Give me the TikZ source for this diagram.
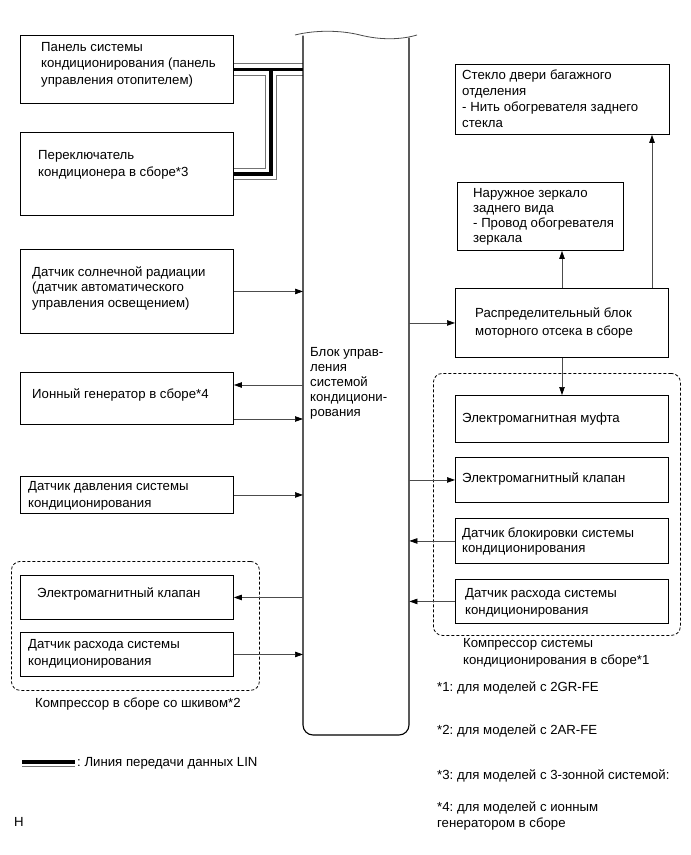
\documentclass[tikz,border=0pt]{standalone}
\usepackage{fontspec}
\setmainfont{Liberation Sans}
\usetikzlibrary{arrows.meta}
\newcommand\fsz[1]{\fontsize{13.2}{#1}\selectfont}
\frenchspacing
\begin{document}
\begin{tikzpicture}[x=1pt,y=-1pt,
 box/.style={draw, line width=0.9pt, inner sep=0pt, anchor=north west},
 grp/.style={draw, line width=0.8pt, dash pattern=on 3pt off 2pt, rounded corners=9pt, inner sep=0pt, anchor=north west},
 txt/.style={inner sep=0pt, anchor=base west, align=left, font=\fsz{16.5}},
 conn/.style={line width=0.7pt, draw=black!70},
 arr/.style={conn, -{Triangle[length=8pt,width=5.5pt,color=black]}},
 linout/.style={line width=12.5pt, draw=black!55},
 linmid/.style={line width=10.5pt, draw=white},
 lincore/.style={line width=3.3pt, draw=black},
]
\useasboundingbox (0,0) rectangle (691,855);

% central unit anchor node
\node[inner sep=0pt, minimum width=106pt, minimum height=700pt, anchor=north west] (cu) at (303,35) {};
\coordinate (j) at (271,69);
\coordinate (lg1) at (22,762);
\coordinate (lg2) at (75,762);

% boxes (left)
\node[box, minimum width=213pt, minimum height=68pt] (b1) at (20,35) {};
\node[box, minimum width=213pt, minimum height=83pt] (b2) at (20,132) {};

% LIN bus (drawn under the boxes)
\draw[linout] (b1.east) -- (b1.east -| cu.west);
\draw[linout] (j) |- (b2.east);
\draw[linmid] (b1.east) -- (b1.east -| cu.west);
\draw[linmid] (j) |- (b2.east);
\draw[lincore] (b1.east) -- (b1.east -| cu.west);
\draw[lincore] (j) |- (b2.east);

\node[box, minimum width=213pt, minimum height=68pt] at (20,35) {};
\node[box, minimum width=213pt, minimum height=83pt] at (20,132) {};
\node[box, minimum width=213pt, minimum height=84pt] (b3) at (20,249) {};
\node[box, minimum width=213pt, minimum height=52pt] (b4) at (20,372) {};
\node[box, minimum width=213pt, minimum height=37pt] (b5) at (20,476) {};
\node[grp, minimum width=248pt, minimum height=129pt] (gl) at (11,561) {};
\node[box, minimum width=213pt, minimum height=44pt] (b6) at (20,575) {};
\node[box, minimum width=213pt, minimum height=44pt] (b7) at (20,632) {};

% boxes (right)
\node[box, minimum width=214pt, minimum height=70pt] (r1) at (455,64) {};
\node[box, minimum width=166pt, minimum height=68pt] (r2) at (457,182) {};
\node[box, minimum width=213pt, minimum height=69pt] (r3) at (455,288) {};
\node[grp, minimum width=247pt, minimum height=262pt] (gr) at (433,373) {};
\node[box, minimum width=213pt, minimum height=47pt] (r4) at (455,395) {};
\node[box, minimum width=213pt, minimum height=45pt] (r5) at (455,457) {};
\node[box, minimum width=213pt, minimum height=45pt] (r6) at (455,518) {};
\node[box, minimum width=213pt, minimum height=44pt] (r7) at (455,579) {};

% central unit outline
\draw[line width=1.1pt, rounded corners=10pt] (303,35.5) -- (303,735) -- (409,735) -- (409,37.5);
\draw[line width=0.8pt, draw=black!70] (295,35) .. controls (315,30) and (340,30) .. (360,35) .. controls (380,40) and (400,40) .. (417,35);

% connectors
\draw[arr] (b3.east) -- (b3.east -| cu.west);
\draw[arr] (cu.west |- 0,385) -- (b4.east |- 0,385);
\draw[arr] (b4.east |- 0,419) -- (cu.west |- 0,419);
\draw[arr] (b5.east) -- (b5.east -| cu.west);
\draw[arr] (b6.east -| cu.west) -- (b6.east);
\draw[arr] (b7.east) -- (b7.east -| cu.west);
\draw[arr] (cu.east |- r3.west) -- (r3.west);
\draw[arr] (r3.north -| 562,0) -- (r2.south -| 562,0);
\draw[arr] (r3.north -| 652,0) -- (r1.south -| 652,0);
\draw[arr] (r3.south -| 562,0) -- (r4.north -| 562,0);
\draw[arr] (cu.east |- r5.west) -- (r5.west);
\draw[arr] (r6.west) -- (r6.west -| cu.east);
\draw[arr] (r7.west) -- (r7.west -| cu.east);

% legend line
\draw[line width=9pt, draw=black!55] (lg1) -- (lg2);
\draw[line width=7.4pt, draw=white] (lg1) -- (lg2);
\draw[line width=3.2pt, draw=black] (lg1) -- (lg2);

% texts (anchor = baseline of last line)
\node[txt, font=\fsz{16.7}] (b1t) at (41,84.6) {Панель системы\\кондиционирования (панель\\управления отопителем)};
\node[txt, font=\fsz{17}] (b2t) at (38,176.5) {Переключатель\\кондиционера в сборе*3};
\node[txt, font=\fsz{15.5}] (b3t) at (32,307) {Датчик солнечной радиации\\(датчик автоматического\\управления освещением)};
\node[txt] (b4t) at (32,398.5) {Ионный генератор в сборе*4};
\node[txt, font=\fsz{16.7}] (b5t) at (28,507.2) {Датчик давления системы\\кондиционирования};
\node[txt] (b6t) at (37,597) {Электромагнитный клапан};
\node[txt, font=\fsz{17}] (b7t) at (28,665.5) {Датчик расхода системы\\кондиционирования};
\node[txt] (glt) at (35,707.5) {Компрессор в сборе со шкивом*2};
\node[txt, font=\fsz{15.2}] (cut) at (310,416.8) {Блок управ-\\ления\\системой\\кондициони-\\рования};
\node[txt, font=\fsz{16}] (r1t) at (462,127.5) {Стекло двери багажного\\отделения\\- Нить обогревателя заднего\\стекла};
\node[txt, font=\fsz{15}] (r2t) at (473,242.5) {Наружное зеркало\\заднего вида\\- Провод обогревателя\\зеркала};
\node[txt, font=\fsz{17.7}] (r3t) at (475,335.5) {Распределительный блок\\моторного отсека в сборе};
\node[txt] (r4t) at (462,422.5) {Электромагнитная муфта};
\node[txt] (r5t) at (462,482.5) {Электромагнитный клапан};
\node[txt, font=\fsz{15}] (r6t) at (462,552.8) {Датчик блокировки системы\\кондиционирования};
\node[txt, font=\fsz{17}] (r7t) at (465,614.8) {Датчик расхода системы\\кондиционирования};
\node[txt, font=\fsz{17}] (grt) at (463,664.5) {Компрессор системы\\кондиционирования в сборе*1};
\node[txt] (n1) at (437,691.5) {*1: для моделей с 2GR-FE};
\node[txt] (n2) at (437,734.5) {*2: для моделей с 2AR-FE};
\node[txt] (n3) at (437,779.5) {*3: для моделей с 3-зонной системой:};
\node[txt, font=\fsz{16}] (n4) at (437,827.5) {*4: для моделей с ионным\\генератором в сборе};
\node[txt] (lgt) at (77,766.5) {: Линия передачи данных LIN};
\node[txt] (h) at (14,826.5) {H};
\end{tikzpicture}
\end{document}
